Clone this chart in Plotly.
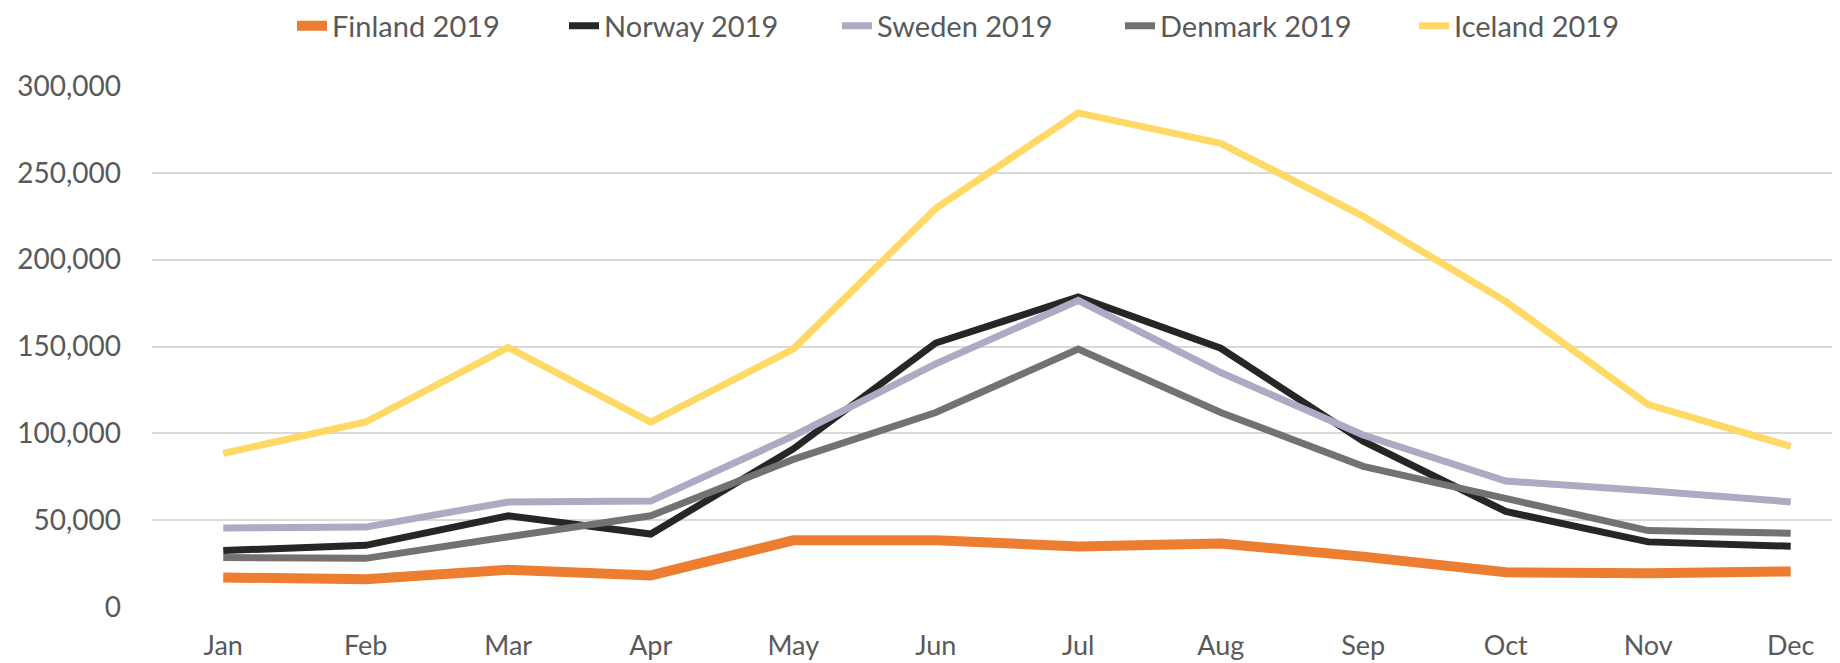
import plotly.graph_objects as go

months = ["Jan", "Feb", "Mar", "Apr", "May", "Jun", "Jul", "Aug", "Sep", "Oct", "Nov", "Dec"]
finland = [17000, 16000, 21500, 18200, 38400, 38500, 34800, 36600, 29000, 20000, 19500, 20500]
norway = [32500, 35500, 52500, 42000, 91000, 152000, 178500, 149000, 95500, 55000, 37500, 35000]
sweden = [45500, 46000, 60500, 61000, 98500, 140000, 176500, 135000, 99000, 72500, 67000, 60500]
denmark = [28500, 28000, 40500, 52500, 85000, 112000, 148500, 112000, 81000, 62000, 44000, 42500]
iceland = [88500, 106500, 149500, 106500, 148500, 229500, 284500, 267000, 225000, 176000, 116500, 92500]
y_ticks = [0, 50000, 100000, 150000, 200000, 250000, 300000]

series = [
    ("Finland 2019", finland, "#ED7D31", 10),
    ("Norway 2019", norway, "#262626", 7),
    ("Sweden 2019", sweden, "#ADAAC3", 7),
    ("Denmark 2019", denmark, "#767171", 7),
    ("Iceland 2019", iceland, "#FFD966", 7),
]
legend_x_px = [284, 556, 829, 1112, 1406]

W, H = 1832, 655  # page body has an 8px margin

fig = go.Figure()
layout_legends = {}
for i, (name, vals, color, w) in enumerate(series):
    key = "legend" if i == 0 else f"legend{i + 1}"
    fig.add_trace(go.Scatter(x=list(range(len(months))), y=vals, name=name, mode="lines",
                             line=dict(color=color, width=w), legend=key))
    layout_legends[key] = dict(orientation="h", x=legend_x_px[i] / W, xanchor="left", xref="container",
                               y=1 - 18 / H, yref="container", yanchor="middle",
                               font=dict(size=29, color="#595959"), bgcolor="rgba(0,0,0,0)")

fig.update_layout(
    width=W, height=H,
    margin=dict(l=144, r=0, t=78, b=56, pad=0),
    paper_bgcolor="white", plot_bgcolor="white",
    font=dict(family="Lato", color="#595959"),
    showlegend=True,
    **layout_legends,
)
fig.update_xaxes(range=[-0.5, 11.346], tickmode="array", tickvals=list(range(12)), ticktext=months,
                 showgrid=False, zeroline=False, showline=False, ticks="",
                 tickfont=dict(size=27, color="#595959"), ticklabelstandoff=20, fixedrange=True)
fig.update_yaxes(range=[0, 300000], tickmode="array", tickvals=y_ticks,
                 ticktext=[f"{v:,}" for v in y_ticks], showgrid=True, gridcolor="#D9D9D9", gridwidth=2,
                 zeroline=False, showline=False, ticks="",
                 tickfont=dict(size=28, color="#595959"), ticklabelstandoff=30, fixedrange=True)

fig.write_html("out.html")
